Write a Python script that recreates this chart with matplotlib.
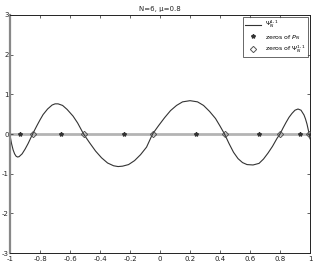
# -*- coding: utf-8 -*-
# recreate the Psi_N^{1,1} plot with zeros of P_N and of Psi

import numpy as np
import matplotlib
matplotlib.use("Agg")
import matplotlib.pyplot as plt

# curve values
x_curve = [-1.0, -0.99, -0.98, -0.97, -0.96, -0.95, -0.94, -0.92, -0.90,
           -0.88, -0.85, -0.82, -0.80, -0.78, -0.75, -0.72, -0.70, -0.68,
           -0.65, -0.62, -0.58, -0.55, -0.51, -0.47, -0.43, -0.39, -0.35,
           -0.31, -0.28, -0.25, -0.21, -0.17, -0.13, -0.09, -0.05, -0.01,
           0.03, 0.07, 0.11, 0.15, 0.20, 0.25, 0.29, 0.33, 0.37, 0.40, 0.43,
           0.46, 0.49, 0.52, 0.55, 0.58, 0.62, 0.66, 0.69, 0.72, 0.75, 0.78,
           0.80, 0.82, 0.84, 0.86, 0.88, 0.90, 0.92, 0.94, 0.96, 0.97, 0.98,
           0.99, 1.0]
y_curve = [-0.05, -0.25, -0.40, -0.50, -0.56, -0.58, -0.57, -0.50, -0.38,
           -0.24, 0.0, 0.22, 0.36, 0.49, 0.63, 0.73, 0.76, 0.76,
           0.72, 0.62, 0.45, 0.28, 0.0, -0.22, -0.43, -0.60, -0.73,
           -0.80, -0.82, -0.81, -0.77, -0.67, -0.52, -0.33, 0.0, 0.21,
           0.41, 0.59, 0.72, 0.81, 0.84, 0.81, 0.72, 0.57, 0.39, 0.20, 0.0,
           -0.24, -0.46, -0.62, -0.72, -0.77, -0.78, -0.74, -0.63, -0.48,
           -0.31, -0.11, 0.0, 0.15, 0.29, 0.42, 0.52, 0.60, 0.63, 0.60, 0.48,
           0.38, 0.25, 0.08, -0.12]

# zeros of P_N (N=6)
zeros_p = [-0.9325, -0.6612, -0.2386, 0.2386, 0.6612, 0.9325]

# zeros of Psi
zeros_psi = [-0.85, -0.51, -0.05, 0.43, 0.80, 0.995]

x_ticks = [-1, -0.8, -0.6, -0.4, -0.2, 0, 0.2, 0.4, 0.6, 0.8, 1]
x_labels = ["-1", "-0.8", "-0.6", "-0.4", "-0.2", "0",
            "0.2", "0.4", "0.6", "0.8", "1"]
y_ticks = [-3, -2, -1, 0, 1, 2, 3]
y_labels = ["-3", "-2", "-1", "0", "1", "2", "3"]

plt.rcParams["font.family"] = ["DejaVu Sans"]

fig = plt.figure(figsize=(3.16, 2.62), dpi=100)
ax = fig.add_axes([0.032, 0.034, 0.949, 0.909])

# zero line
ax.plot([-1, 1], [0, 0], color="#b4b4b4", linewidth=2, zorder=1)

# the curve
ax.plot(x_curve, y_curve, color="#333333", linewidth=0.8,
        label=r"$\Psi_N^{1,1}$", zorder=2)

# zeros
ax.plot(zeros_p, np.zeros(len(zeros_p)), linestyle="none", marker="*",
        markersize=3, color="#333333", label=r"zeros of $P_N$", zorder=3)
ax.plot(zeros_psi, np.zeros(len(zeros_psi)), linestyle="none", marker="D",
        markersize=3.2, markerfacecolor="none", markeredgecolor="#555555",
        markeredgewidth=0.7, label=r"zeros of $\Psi_N^{1,1}$", zorder=3)

ax.set_xlim(-1, 1)
ax.set_ylim(-3, 3)
ax.set_xticks(x_ticks)
ax.set_xticklabels(x_labels)
ax.set_yticks(y_ticks)
ax.set_yticklabels(y_labels)
ax.tick_params(direction="in", length=2.5, width=0.5, labelsize=5,
               top=True, right=True, pad=1, colors="#222222")
ax.tick_params(axis="x", pad=2)

for side in ["top", "bottom", "right"]:
    ax.spines[side].set_linewidth(0.7)
    ax.spines[side].set_color("#222222")
ax.spines["left"].set_linewidth(1.6)
ax.spines["left"].set_color("#888888")

ax.set_title("N=6, \u03bc=0.8", fontsize=5, pad=3, color="#222222")

leg = ax.legend(loc="upper right", fontsize=4.5, frameon=True, fancybox=False,
                edgecolor="#222222", borderpad=0.35, handlelength=2.6,
                labelspacing=0.35, borderaxespad=0.3, handletextpad=0.6)
leg.get_frame().set_linewidth(0.6)

plt.savefig("out.png", dpi=100)
